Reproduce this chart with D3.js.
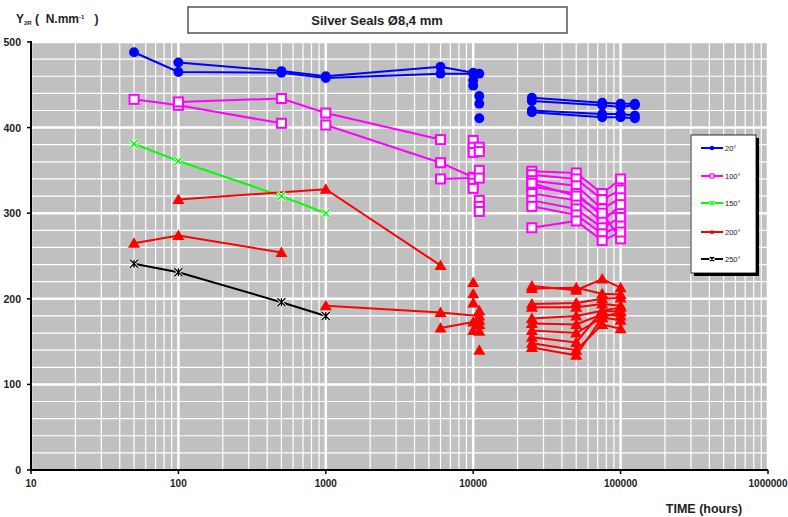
<!DOCTYPE html>
<html>
<head>
<meta charset="utf-8">
<script src="https://cdn.jsdelivr.net/npm/d3@7"></script>
<style>
  body { margin: 0; background: #fff; }
  text { font-family: "Liberation Sans", Arial, sans-serif; }
</style>
</head>
<body>
<div id="chart"></div>
<script>
// series labels / colours / markers
const seriesNames = ["20°", "100°", "150°", "200°", "250°"];
const seriesColors = ["#0000ff", "#ff00ff", "#00ff00", "#ff0000", "#000000"];
const seriesMarkers = ["circle", "square", "cross", "triangle", "star"];

const xTicks = [10, 100, 1000, 10000, 100000, 1000000];
const yTicks = [0, 100, 200, 300, 400, 500];

// each line is one specimen: [hours, Y2R]
const lines20 = [
  [[50, 488], [100, 465], [500, 464], [1000, 458], [6000, 463], [10000, 463], [11000, 463]],
  [[100, 476], [500, 466], [1000, 460], [6000, 471], [10000, 464]],
  [[25000, 435], [75000, 429], [100000, 428], [125000, 428]],
  [[25000, 431], [75000, 426], [100000, 424], [125000, 426]],
  [[25000, 420], [75000, 416], [100000, 416], [125000, 414]],
  [[25000, 418], [75000, 412], [100000, 412], [125000, 411]]
];
const points20 = [[10000, 455], [10000, 449], [11000, 437], [11000, 428], [11000, 411]];

const lines100 = [
  [[50, 433], [100, 426], [500, 405]],
  [[100, 430], [500, 434], [1000, 417], [6000, 386]],
  [[1000, 403], [6000, 359], [10000, 342]],
  [[6000, 340], [10000, 341]],
  [[25000, 349], [50000, 347], [75000, 323], [100000, 340]],
  [[25000, 345], [50000, 340], [75000, 316], [100000, 327]],
  [[25000, 338], [50000, 332], [75000, 305], [100000, 318]],
  [[25000, 331], [50000, 323], [75000, 297], [100000, 302]],
  [[25000, 323], [50000, 315], [75000, 290], [100000, 310]],
  [[25000, 315], [50000, 305], [75000, 283], [100000, 295]],
  [[25000, 308], [50000, 298], [75000, 276], [100000, 285]],
  [[25000, 335], [50000, 320], [75000, 300], [100000, 270]],
  [[25000, 283], [50000, 291], [75000, 268], [100000, 278]]
];
const points100 = [[10000, 385], [10000, 377], [10000, 371], [10000, 335], [10000, 329],
  [11000, 377], [11000, 372], [11000, 350], [11000, 341], [11000, 315], [11000, 308], [11000, 302]];

const lines150 = [
  [[50, 381], [100, 361], [500, 320], [1000, 300]]
];

const lines200 = [
  [[50, 265], [100, 274], [500, 254]],
  [[100, 316], [1000, 328], [6000, 239]],
  [[1000, 192], [6000, 184], [11000, 180]],
  [[6000, 166], [10000, 173], [11000, 175]],
  [[25000, 215], [50000, 210], [75000, 223], [100000, 213]],
  [[25000, 212], [50000, 213], [75000, 206], [100000, 205]],
  [[25000, 194], [50000, 195], [75000, 200], [100000, 201]],
  [[25000, 190], [50000, 190], [75000, 194], [100000, 192]],
  [[25000, 177], [50000, 180], [75000, 186], [100000, 185]],
  [[25000, 171], [50000, 170], [75000, 182], [100000, 180]],
  [[25000, 163], [50000, 160], [75000, 178], [100000, 175]],
  [[25000, 155], [50000, 149], [75000, 186], [100000, 190]],
  [[25000, 148], [50000, 140], [75000, 170], [100000, 165]],
  [[25000, 143], [50000, 134], [75000, 178], [100000, 185]]
];
const points200 = [[10000, 219], [10000, 206], [10000, 195], [10000, 163],
  [11000, 186], [11000, 170], [11000, 162], [11000, 140]];

const lines250 = [
  [[50, 241], [100, 231], [500, 196], [1000, 180]]
];

const seriesLines = [lines20, lines100, lines150, lines200, lines250];
const seriesPoints = [points20, points100, [], points200, []];

const width = 788, height = 517;
const x = d3.scaleLog().domain([10, 1000000]).range([31, 768]);
const y = d3.scaleLinear().domain([0, 500]).range([470, 42]);

const svg = d3.select("#chart").append("svg")
    .attr("width", width)
    .attr("height", height);

//plot background
svg.append("rect")
    .attr("x", x(10)).attr("y", y(500))
    .attr("width", x(1000000) - x(10))
    .attr("height", y(0) - y(500))
    .attr("fill", "#c0c0c0");

//horizontal grid every 20
svg.append("g").selectAll("line")
    .data(d3.range(20, 501, 20))
    .enter().append("line")
    .attr("x1", x(10)).attr("x2", x(1000000))
    .attr("y1", (d) => y(d)).attr("y2", (d) => y(d))
    .attr("stroke", "#fff")
    .attr("stroke-width", (d) => d % 100 === 0 ? 2.5 : 1.2);

//vertical log grid
const minorX = [];
xTicks.slice(0, -1).forEach((t) => {
  for (let k = 1; k < 10; k++) minorX.push(t * k);
});
minorX.push(1000000);
svg.append("g").selectAll("line")
    .data(minorX)
    .enter().append("line")
    .attr("x1", (d) => x(d)).attr("x2", (d) => x(d))
    .attr("y1", y(500)).attr("y2", y(0))
    .attr("stroke", "#fff")
    .attr("stroke-width", (d) => xTicks.includes(d) ? 2.5 : 1.2);

//axes
svg.append("line")
    .attr("x1", x(10)).attr("x2", x(10))
    .attr("y1", y(500) - 1).attr("y2", y(0) + 1)
    .attr("stroke", "#000").attr("stroke-width", 2);
svg.append("line")
    .attr("x1", x(10) - 1).attr("x2", x(1000000))
    .attr("y1", y(0)).attr("y2", y(0))
    .attr("stroke", "#000").attr("stroke-width", 2);

svg.append("g").selectAll("line")
    .data(yTicks)
    .enter().append("line")
    .attr("x1", x(10) - 4).attr("x2", x(10))
    .attr("y1", (d) => y(d)).attr("y2", (d) => y(d))
    .attr("stroke", "#000").attr("stroke-width", 1.5);

svg.append("g").selectAll("line")
    .data(xTicks)
    .enter().append("line")
    .attr("x1", (d) => x(d)).attr("x2", (d) => x(d))
    .attr("y1", y(0)).attr("y2", y(0) + 4)
    .attr("stroke", "#000").attr("stroke-width", 1.5);

svg.append("g").selectAll("text")
    .data(yTicks)
    .enter().append("text")
    .attr("x", 21)
    .attr("y", (d) => y(d) + 4)
    .attr("text-anchor", "end")
    .attr("font-size", 10.5)
    .attr("font-weight", "bold")
    .attr("fill", "#222")
    .text((d) => d);

svg.append("g").selectAll("text")
    .data(xTicks)
    .enter().append("text")
    .attr("x", (d) => x(d))
    .attr("y", 487)
    .attr("text-anchor", "middle")
    .attr("font-size", 10)
    .attr("font-weight", "bold")
    .attr("fill", "#222")
    .text((d) => d);

//axis titles
const yTitle = svg.append("text")
    .attr("x", 16).attr("y", 23)
    .attr("font-size", 12)
    .attr("font-weight", "bold")
    .attr("fill", "#222");
yTitle.append("tspan").text("Y");
yTitle.append("tspan").attr("font-size", 6).attr("dy", 2).text("2R");
yTitle.append("tspan").attr("dy", -2).attr("xml:space", "preserve").text(" (  N.mm");
yTitle.append("tspan").attr("font-size", 6).attr("dy", -4).text("-1");
yTitle.append("tspan").attr("dy", 4).attr("xml:space", "preserve").text("   )");

svg.append("text")
    .attr("x", 704).attr("y", 513)
    .attr("text-anchor", "middle")
    .attr("font-size", 12.5)
    .attr("font-weight", "bold")
    .attr("fill", "#222")
    .text("TIME (hours)");

//title box
svg.append("rect")
    .attr("x", 188).attr("y", 7)
    .attr("width", 379).attr("height", 26)
    .attr("fill", "#fff")
    .attr("stroke", "#555")
    .attr("stroke-width", 1.5);
svg.append("text")
    .attr("x", 377).attr("y", 25)
    .attr("text-anchor", "middle")
    .attr("font-size", 13)
    .attr("font-weight", "bold")
    .attr("fill", "#222")
    .text("Silver Seals Ø8,4 mm");

//marker drawing
function drawMarker(sel, type, color, size) {
  const s = size;
  if (type === "circle") {
    sel.append("circle").attr("r", s * 0.55).attr("fill", color);
  } else if (type === "square") {
    sel.append("rect")
        .attr("x", -s / 2).attr("y", -s / 2)
        .attr("width", s).attr("height", s)
        .attr("fill", "#fff").attr("stroke", color).attr("stroke-width", s > 6 ? 2 : 1.2);
  } else if (type === "triangle") {
    sel.append("path")
        .attr("d", `M0,${-s * 0.6}L${s * 0.6},${s * 0.45}L${-s * 0.6},${s * 0.45}Z`)
        .attr("fill", color);
  } else if (type === "cross") {
    const h = s / 2;
    sel.append("path")
        .attr("d", `M${-h},${-h}L${h},${h}M${-h},${h}L${h},${-h}`)
        .attr("stroke", "#fff").attr("stroke-width", 3);
    sel.append("path")
        .attr("d", `M${-h},${-h}L${h},${h}M${-h},${h}L${h},${-h}`)
        .attr("stroke", color).attr("stroke-width", 1.5);
  } else {
    const h = s / 2;
    const d = `M${-h},${-h}L${h},${h}M${-h},${h}L${h},${-h}M0,${-h}L0,${h}`;
    sel.append("path").attr("d", d).attr("stroke", "#fff").attr("stroke-width", 3);
    sel.append("path").attr("d", d).attr("stroke", color).attr("stroke-width", 1.3);
  }
}

const markerSize = [9, 9, 8, 10, 8];

const line = d3.line()
    .x((d) => x(d[0]))
    .y((d) => y(d[1]));

//lines first, markers on top
seriesLines.forEach((lines, i) => {
  svg.append("g").selectAll("path")
      .data(lines)
      .enter().append("path")
      .attr("d", line)
      .attr("fill", "none")
      .attr("stroke", seriesColors[i])
      .attr("stroke-width", 2);
});

seriesLines.forEach((lines, i) => {
  const pts = lines.flat().concat(seriesPoints[i]);
  svg.append("g").selectAll("g")
      .data(pts)
      .enter().append("g")
      .attr("transform", (d) => `translate(${x(d[0])},${y(d[1])})`)
      .each(function () { drawMarker(d3.select(this), seriesMarkers[i], seriesColors[i], markerSize[i]); });
});

//legend
svg.append("rect")
    .attr("x", 694).attr("y", 138)
    .attr("width", 65).attr("height", 138)
    .attr("fill", "#000");
svg.append("rect")
    .attr("x", 691).attr("y", 135)
    .attr("width", 65).attr("height", 138)
    .attr("fill", "#fff")
    .attr("stroke", "#000")
    .attr("stroke-width", 0.8);

const legendY = [148, 176, 203, 232, 259];
const legend = svg.append("g").selectAll("g")
    .data(seriesNames)
    .enter().append("g")
    .attr("transform", (d, i) => `translate(0,${legendY[i]})`);
legend.append("line")
    .attr("x1", 701).attr("x2", 723)
    .attr("stroke", (d, i) => seriesColors[i])
    .attr("stroke-width", 2);
legend.each(function (d, i) {
  const m = d3.select(this).append("g").attr("transform", "translate(712,0)");
  drawMarker(m, seriesMarkers[i], seriesColors[i], 4);
});
legend.append("text")
    .attr("x", 725).attr("y", 3)
    .attr("font-size", 7.5)
    .attr("fill", "#222")
    .text((d) => d);
</script>
</body>
</html>
